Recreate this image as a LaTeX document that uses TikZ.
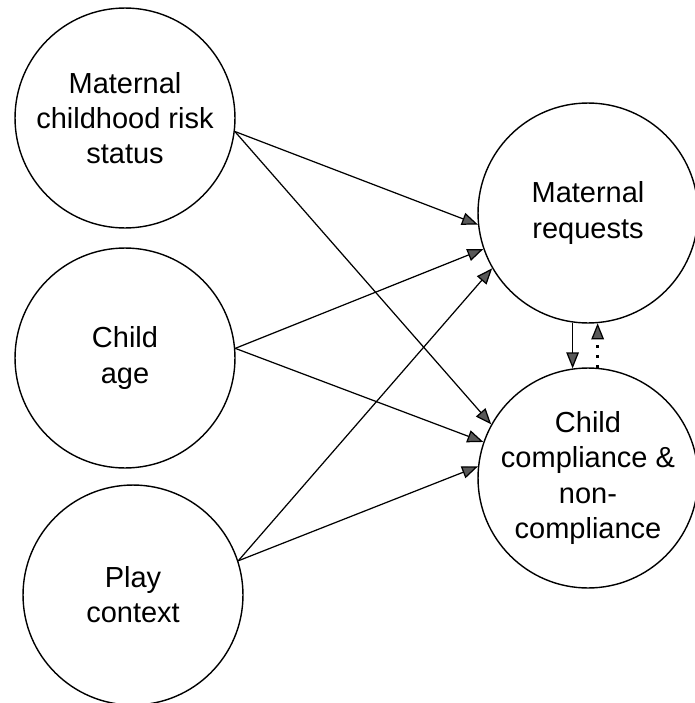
\documentclass[tikz,border=0pt]{standalone}
\usepackage{fontspec}
\setmainfont{Liberation Sans}
\usetikzlibrary{arrows.meta}
\definecolor{tipGray}{rgb}{0.35,0.35,0.35}

\begin{document}
\begin{tikzpicture}[x=0.02cm, y=-0.02cm,
        var/.style={draw, circle, line width=0.8pt, minimum size=4.4cm, inner sep=0pt,
            align=center, font=\fontsize{16.5}{20}\selectfont},
        effect/.style={line width=0.7pt, -{Triangle[length=0.32cm, width=0.25cm, fill=tipGray]}},
        feedback/.style={line width=1.7pt, dash pattern=on 1.7pt off 4pt,
            -{Triangle[length=0.32cm, width=0.25cm, fill=tipGray, line width=0.7pt]}}]

        \useasboundingbox (0,0) rectangle (695,703);

        % predictors
        \node[var] (risk) at (125,118) {Maternal\\childhood risk\\status};
        \node[var] (age) at (125,358) {Child\\age};
        \node[var] (play) at (133,595) {Play\\context};

        % outcomes
        \node[var] (req) at (588,213) {Maternal\\requests};
        \node[var] (comp) at (588,478) {Child\\compliance \&\\non-\\compliance};

        % paths to maternal requests
        \draw[effect] (risk.-7) -- (req.186);
        \draw[effect] (age.5) -- (req.199);
        \draw[effect] (play.18) -- (req.210);

        % paths to child compliance
        \draw[effect] (risk.-7) -- (comp.151);
        \draw[effect] (age.5) -- (comp.161);
        \draw[effect] (play.18) -- (comp.174);

        % between outcomes
        \draw[effect] (req.-98) -- (comp.98);
        \draw[feedback] (comp.85) -- (req.-85);

    \end{tikzpicture}
\end{document}
